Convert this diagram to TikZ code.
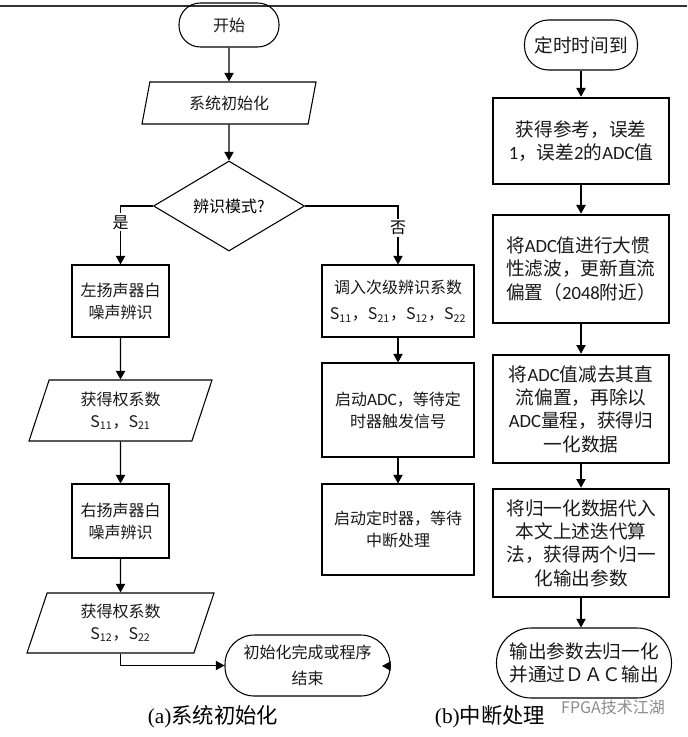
\documentclass[tikz,border=0pt]{standalone}
\usepackage{fontspec}
\setmainfont{Liberation Serif}
\newfontfamily\cjk{Noto Sans CJK SC}
\newfontfamily\lat{Carlito}
\usetikzlibrary{shapes.geometric,arrows.meta}
\begin{document}
\begin{tikzpicture}[x=0.75pt,y=-0.75pt,
  txtl/.style={font=\cjk\fontsize{12}{16.5}\selectfont},
  txtr/.style={font=\cjk\fontsize{14}{17.5}\selectfont},
  box/.style={draw, line width=0.8pt, rectangle, inner sep=0pt, align=center, txtl, text=black!90},
  tbox/.style={box, line width=2pt, txtr, minimum width=132pt, minimum height=81pt},
  mbox/.style={box, minimum width=114pt},
  lbox/.style={box, minimum width=72.75pt},
  term/.style={box, rounded corners=#1},
  para/.style={draw, line width=0.8pt, trapezium, trapezium stretches body, trapezium left angle=62, trapezium right angle=118, inner sep=0pt, align=center, txtl, text=black!90},
  arr/.style={line width=0.8pt, -{Triangle[length=6.5pt,width=7pt]}},
  lbl/.style={fill=white, inner sep=1.5pt, txtl},
]
\useasboundingbox (0,0) rectangle (687,737);
\fill[white] (0,0) rectangle (687,737);
% top rule
\coordinate (tl) at (0,6);
\coordinate (tr) at (687,6);
\draw[line width=1.1pt, black!80] (tl) -- (tr);

% ---------- (a) ----------
\node[term=16pt, minimum width=75pt, minimum height=33pt] (start) at (229,25) {开始};
\node[para, minimum width=130.5pt, minimum height=31.5pt] (init) at (229,103) {系统初始化};
\node[draw, line width=0.8pt, diamond, aspect=1.68, inner sep=0pt, minimum width=113.25pt, minimum height=67.5pt, txtl] (dia) at (229,206) {辨识模式?};
\node[lbox, minimum height=54pt] (L1) at (120.5,301) {左扬声器白\\噪声辨识};
\node[para, minimum width=137.25pt, minimum height=45.75pt] (P2) at (120.5,410.5) {获得权系数\\S\textsubscript{11}，S\textsubscript{21}};
\node[lbox, minimum height=55.5pt] (L2) at (120.5,521) {右扬声器白\\噪声辨识};
\node[para, minimum width=140.25pt, minimum height=45pt] (P3) at (120.5,623) {获得权系数\\S\textsubscript{12}，S\textsubscript{22}};
\node[term=22pt, minimum width=123.75pt, minimum height=45.75pt, font=\cjk\fontsize{12}{20}\selectfont] (endA) at (307.5,665.5) {初始化完成或程序\\结束};

\node[mbox, minimum height=54pt, font=\cjk\fontsize{12}{20}\selectfont] (M1) at (398,301) {调入次级辨识系数\\S\textsubscript{11}，S\textsubscript{21}，S\textsubscript{12}，S\textsubscript{22}};
\node[mbox, minimum height=70.5pt] (M2) at (398,410) {启动{\lat\fontsize{13}{16.5}\selectfont ADC}，等待定\\时器触发信号};
\node[mbox, minimum height=68.25pt] (M3) at (398,529.5) {启动定时器，等待\\中断处理};

\draw[arr] (start) -- (init);
\draw[arr] (init) -- (dia);
\draw[arr] (dia.west) -| (L1.north) node[lbl, pos=0.64] {是};
\draw[arr] (dia.east) -| (M1.north) node[lbl, pos=0.69] {否};
\draw[arr] (L1) -- (P2);
\draw[arr] (P2) -- (L2);
\draw[arr] (L2) -- (P3);
\draw[arr] (P3.south) |- (endA.west);
\coordinate (stubA) at (391,666);
\coordinate (stubB) at (382,666);
\draw[arr] (stubA) -- (stubB);
\draw[arr] (M1) -- (M2);
\draw[arr] (M2) -- (M3);

% ---------- (b) ----------
\node[term=18pt, minimum width=84.75pt, minimum height=37.5pt, txtr] (R0) at (581,45) {定时时间到};
\node[tbox, minimum height=64.5pt] (R1) at (581,141) {获得参考，误差\\{\lat 1}，误差{\lat 2}的{\lat ADC}值};
\node[tbox, align=left] (R2) at (581,269) {将{\lat ADC}值进行大惯\\性滤波，更新直流\\偏置（{\lat 2048}附近）};
\node[tbox] (R3) at (581,409) {将{\lat ADC}值减去其直\\流偏置，再除以\\{\lat ADC}量程，获得归\\一化数据};
\node[tbox] (R4) at (581,543) {将归一化数据代入\\本文上述迭代算\\法，获得两个归一\\化输出参数};
\node[term=26pt, minimum width=131.25pt, minimum height=52.5pt, txtr] (R5) at (584,663) {输出参数去归一化\\并通过ＤＡＣ输出};

\draw[arr] (R0) -- (R1);
\draw[arr] (R1) -- (R2);
\draw[arr] (R2) -- (R3);
\draw[arr] (R3) -- (R4);
\draw[arr] (R4.south) -- (R4.south |- R5.north);

% captions
\node[font=\fontsize{16}{16}\selectfont, inner sep=0pt] (capA) at (213,717) {(a){\cjk 系统初始化}};
\node[font=\fontsize{16}{16}\selectfont, inner sep=0pt] (capB) at (490,717) {(b){\cjk 中断处理}};
\node[font=\cjk\fontsize{12}{12}\selectfont, text=black!45, inner sep=0pt] (wm) at (613,707) {FPGA技术江湖};
\end{tikzpicture}
\end{document}
